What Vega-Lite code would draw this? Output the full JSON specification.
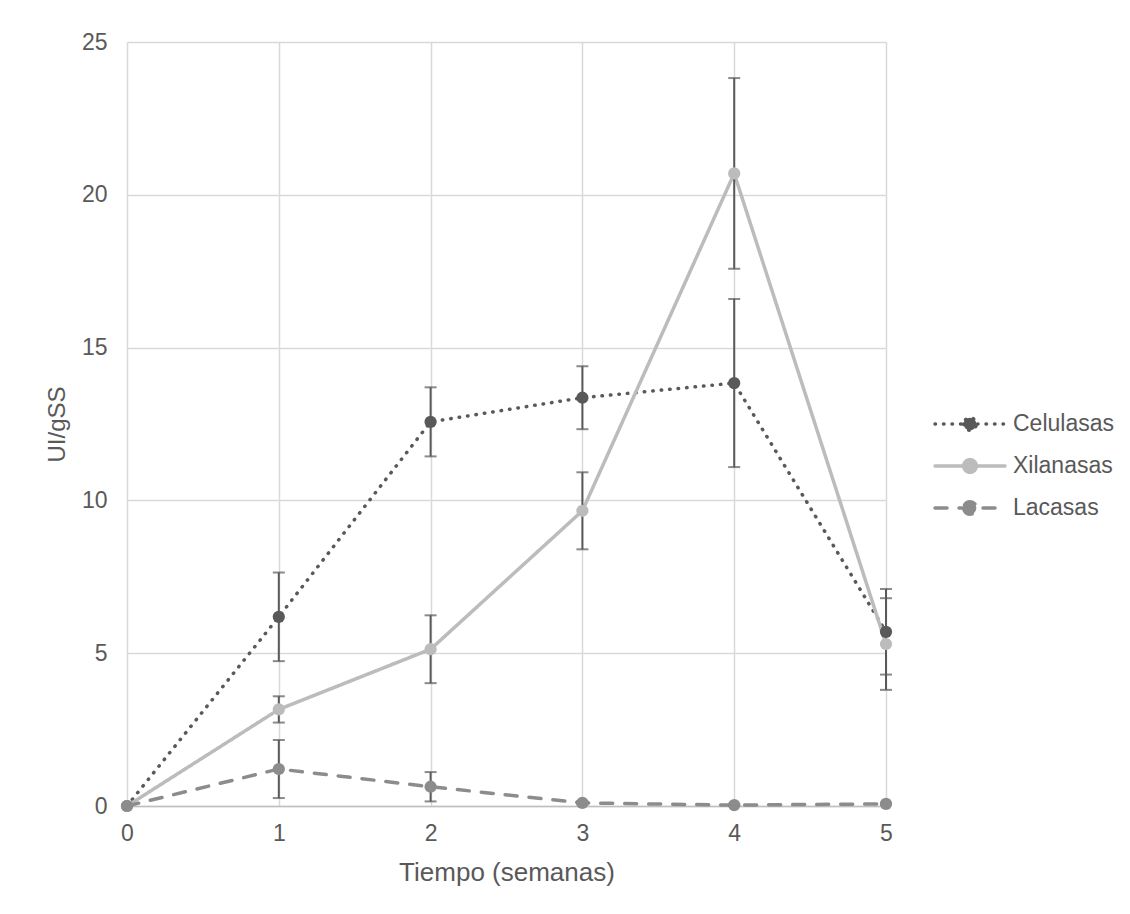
{
  "$schema": "https://vega.github.io/schema/vega-lite/v6.json",
  "width": 759,
  "height": 764,
  "autosize": {"type": "none"},
  "padding": {"left": 127, "top": 42, "right": 244, "bottom": 108},
  "background": "white",
  "config": {"font": "Liberation Sans", "view": {"stroke": null}},
  "data": {
    "values": [
      {"s": "Celulasas", "t": 0, "v": 0, "err": 0},
      {"s": "Celulasas", "t": 1, "v": 6.19, "err": 1.45},
      {"s": "Celulasas", "t": 2, "v": 12.57, "err": 1.13},
      {"s": "Celulasas", "t": 3, "v": 13.36, "err": 1.03},
      {"s": "Celulasas", "t": 4, "v": 13.84, "err": 2.75},
      {"s": "Celulasas", "t": 5, "v": 5.7, "err": 1.4},
      {"s": "Xilanasas", "t": 0, "v": 0, "err": 0},
      {"s": "Xilanasas", "t": 1, "v": 3.16, "err": 0.43},
      {"s": "Xilanasas", "t": 2, "v": 5.13, "err": 1.11},
      {"s": "Xilanasas", "t": 3, "v": 9.66, "err": 1.26},
      {"s": "Xilanasas", "t": 4, "v": 20.7, "err": 3.12},
      {"s": "Xilanasas", "t": 5, "v": 5.3, "err": 1.5},
      {"s": "Lacasas", "t": 0, "v": 0, "err": 0},
      {"s": "Lacasas", "t": 1, "v": 1.21, "err": 0.95},
      {"s": "Lacasas", "t": 2, "v": 0.63, "err": 0.48},
      {"s": "Lacasas", "t": 3, "v": 0.1, "err": 0.05},
      {"s": "Lacasas", "t": 4, "v": 0.03, "err": 0.02},
      {"s": "Lacasas", "t": 5, "v": 0.07, "err": 0.03}
    ]
  },
  "encoding": {
    "x": {
      "field": "t", "type": "quantitative",
      "scale": {"domain": [0, 5], "nice": false},
      "axis": {
        "title": "Tiempo (semanas)", "values": [0, 1, 2, 3, 4, 5], "format": "d",
        "labelFontSize": 23, "labelColor": "#595959", "labelPadding": 16, "labelFlush": false,
        "ticks": false, "domainColor": "#bfbfbf", "domainWidth": 1.5,
        "gridColor": "#d9d9d9", "gridWidth": 1.5,
        "titleFontSize": 26, "titleFontWeight": "normal", "titleColor": "#595959",
        "titleBaseline": "alphabetic", "titleY": 74
      }
    },
    "y": {
      "field": "v", "type": "quantitative",
      "scale": {"domain": [0, 25], "nice": false},
      "axis": {
        "title": "UI/gSS", "values": [0, 5, 10, 15, 20, 25],
        "labelFontSize": 23, "labelColor": "#595959", "labelPadding": 20, "labelFlush": false,
        "ticks": false, "domain": false,
        "gridColor": "#d9d9d9", "gridWidth": 1.5,
        "titleFontSize": 24, "titleFontWeight": "normal", "titleColor": "#595959",
        "titleBaseline": "alphabetic", "titleAngle": 270, "titleX": -63, "titleY": 382
      }
    }
  },
  "layer": [
    {
      "mark": {"type": "line", "strokeWidth": 3.5, "strokeCap": "round"},
      "encoding": {
        "color": {
          "field": "s", "type": "nominal",
          "scale": {"domain": ["Celulasas", "Xilanasas", "Lacasas"], "range": ["#595959", "#bcbcbc", "#8c8c8c"]},
          "legend": {
            "title": null, "orient": "none", "legendX": 806, "legendY": 362,
            "labelFontSize": 23, "labelColor": "#595959", "labelOffset": 6,
            "symbolType": "M-1,0L1,0M-0.18,0A0.18,0.18,0,1,0,0.18,0A0.18,0.18,0,1,0,-0.18,0Z",
            "symbolSize": 4900, "rowPadding": 2, "clipHeight": 40,
            "encode": {
              "symbols": {
                "update": {
                  "fill": {"scale": "color", "field": "value"},
                  "stroke": {"scale": "color", "field": "value"},
                  "strokeDash": {"scale": "strokeDash", "field": "value"},
                  "strokeWidth": {"value": 3.5},
                  "strokeCap": {"value": "round"},
                  "opacity": {"value": 1}
                }
              }
            }
          }
        },
        "strokeDash": {
          "field": "s", "type": "nominal",
          "scale": {"domain": ["Celulasas", "Xilanasas", "Lacasas"], "range": [[0.5, 8], [1, 0], [12, 12]]},
          "legend": null
        }
      }
    },
    {
      "mark": {"type": "errorbar", "ticks": true, "thickness": 2, "size": 12, "color": "#595959"},
      "encoding": {
        "yError": {"field": "err"}
      }
    },
    {
      "mark": {"type": "point", "filled": true, "size": 150, "opacity": 1},
      "encoding": {
        "color": {"field": "s", "type": "nominal", "legend": null}
      }
    }
  ]
}
